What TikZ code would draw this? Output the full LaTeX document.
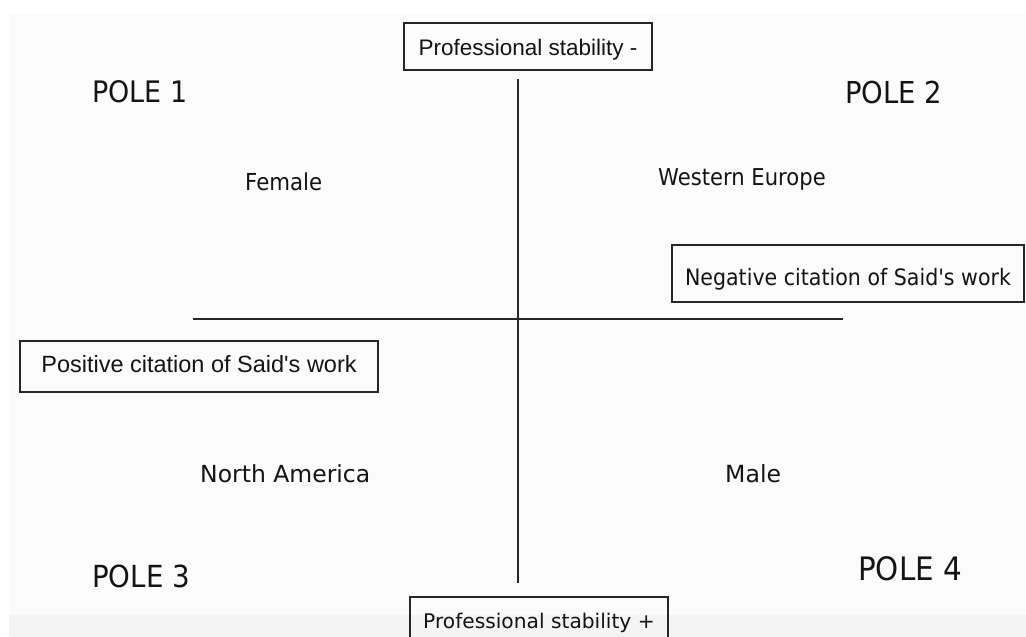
\documentclass[tikz,border=0pt]{standalone}
\usepackage{fontspec}
\setmainfont{DejaVu Sans}
\newfontfamily\helv{Liberation Sans}
\newfontfamily\narrow[FakeStretch=0.91]{DejaVu Sans}
\definecolor{ink}{HTML}{141414}
\definecolor{rule}{HTML}{262626}
\definecolor{paper}{HTML}{FBFBFB}
\definecolor{strip}{HTML}{F4F4F4}
\newcommand{\apos}{{\char"27}}
\begin{document}
\begin{tikzpicture}[x=1pt,y=-1pt,
  lbl/.style={anchor=base west, inner sep=0, text=ink},
  boxnode/.style={draw=rule, line width=1.6pt, inner sep=0, anchor=base, text=ink},
  axis/.style={draw=rule, line width=1.5pt}]
\path[use as bounding box] (0,0) rectangle (1026,637);
\clip (0,0) rectangle (1026,637);
\fill[white] (0,0) rectangle (1026,637);
\fill[paper] (9,14) rectangle (1026,637);
\fill[strip] (9,615) rectangle (1026,637);

% boxes
\node[boxnode, minimum width=248pt, text height=32pt, text depth=15pt] (top) at (528,55)
  {\helv\fontsize{22.5}{26}\selectfont Professional stability -};
\node[boxnode, minimum width=258pt, text height=31pt, text depth=27pt] (bot) at (539,628)
  {\fontsize{20.2}{24}\selectfont Professional stability +};
\node[boxnode, minimum width=352pt, text height=40pt, text depth=17pt] (neg) at (848,285)
  {\narrow\fontsize{22.6}{26}\selectfont Negative citation of Said\apos s work};
\node[boxnode, minimum width=358pt, text height=31pt, text depth=20pt] (pos) at (199,372)
  {\helv\fontsize{23.5}{27}\selectfont Positive citation of Said\apos s work};

% axes
\coordinate (vt) at (518,79);
\coordinate (vb) at (518,583);
\coordinate (hl) at (193,319);
\coordinate (hr) at (843,319);
\draw[axis] (vt) -- (vb);
\draw[axis] (hl) -- (hr);

% labels
\node[lbl] (p1) at (92,102) {\narrow\fontsize{29.6}{32}\selectfont POLE 1};
\node[lbl] (p2) at (845,103) {\narrow\fontsize{30.2}{32}\selectfont POLE 2};
\node[lbl] (p3) at (92,587) {\narrow\fontsize{30.4}{32}\selectfont POLE 3};
\node[lbl] (p4) at (858,580) {\narrow\fontsize{32.3}{34}\selectfont POLE 4};
\node[lbl] (fem) at (245,190) {\narrow\fontsize{23.4}{26}\selectfont Female};
\node[lbl] (we) at (658,185) {\narrow\fontsize{23.2}{26}\selectfont Western Europe};
\node[lbl] (na) at (200,482) {\fontsize{23.5}{26}\selectfont North America};
\node[lbl] (male) at (725,482) {\fontsize{23.6}{26}\selectfont Male};
\end{tikzpicture}
\end{document}
